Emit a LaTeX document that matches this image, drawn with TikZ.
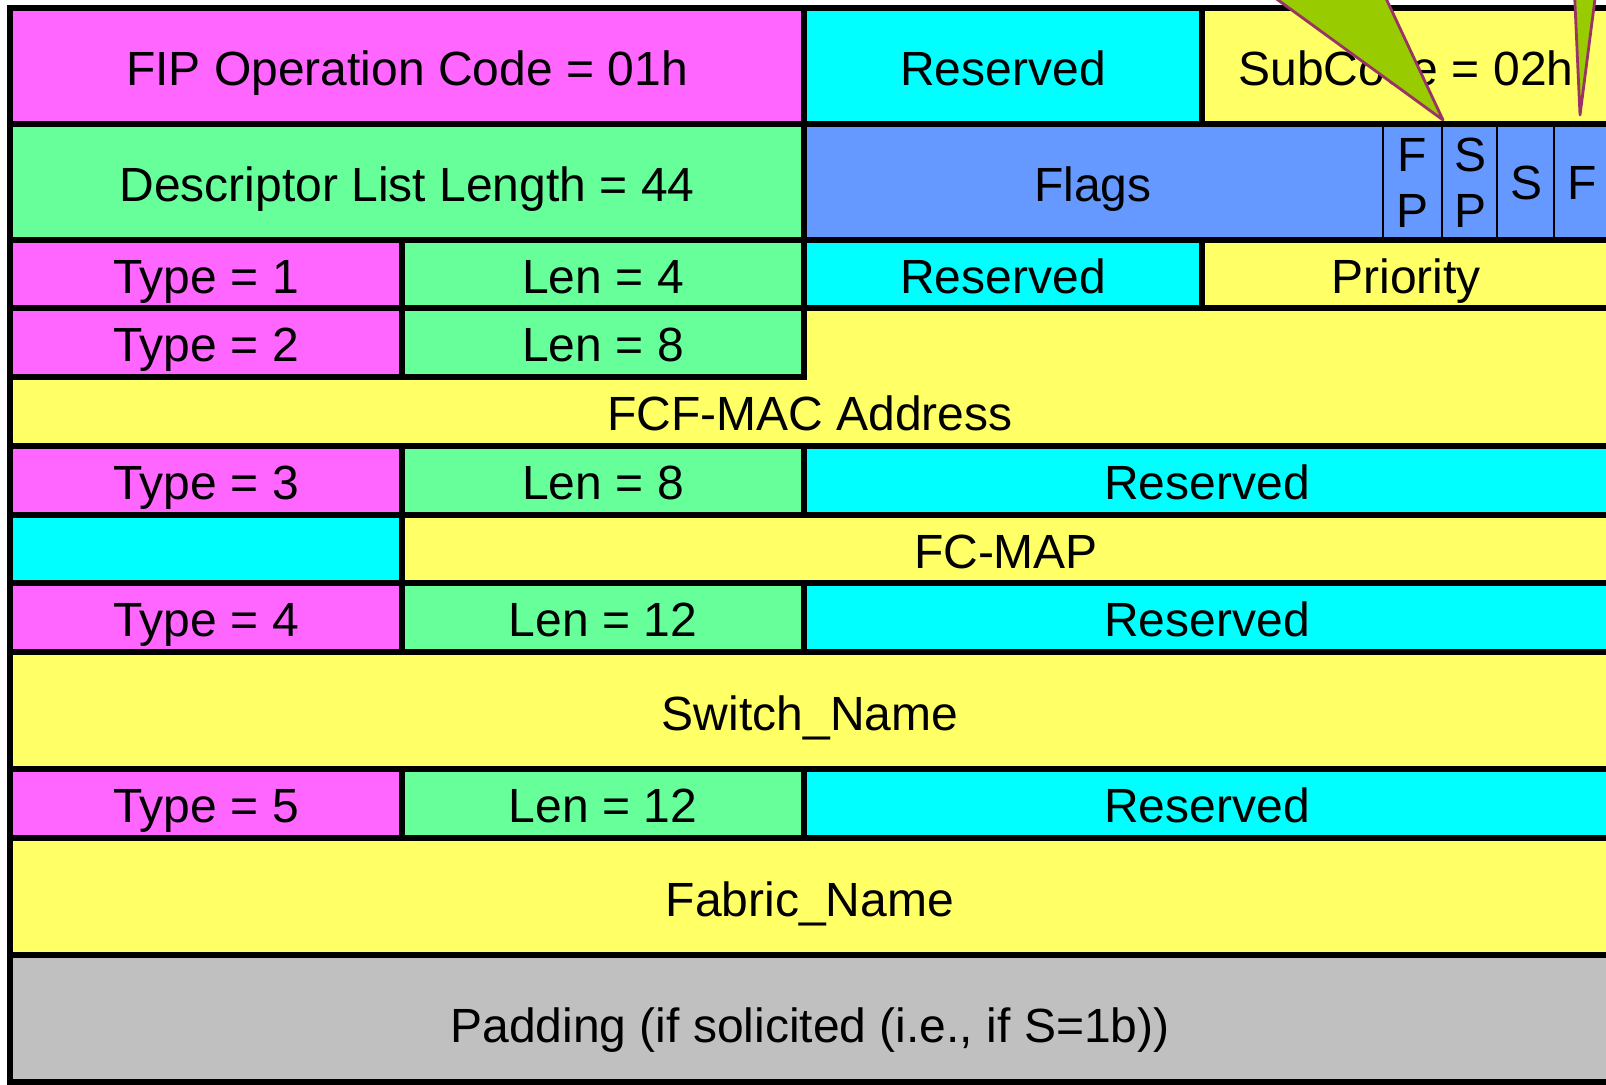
\documentclass[tikz,border=0pt]{standalone}
\usepackage{fontspec}
\setmainfont{Liberation Sans}
\usetikzlibrary{positioning}
\definecolor{fldmagenta}{HTML}{FF66FF}
\definecolor{fldgreen}{HTML}{66FF99}
\definecolor{fldcyan}{HTML}{00FFFF}
\definecolor{fldyellow}{HTML}{FFFF66}
\definecolor{fldblue}{HTML}{6699FF}
\definecolor{fldgray}{HTML}{C0C0C0}
\definecolor{pointergreen}{HTML}{99CC00}
\definecolor{pointerrim}{HTML}{993366}
\tikzstyle{field} = [draw=black,line width=2.7pt]
\tikzstyle{bitcell} = [draw=black,line width=0.9pt]
\tikzstyle{fldtext} = [font=\fontsize{24}{27.5}\selectfont,inner sep=0pt,anchor=base]
\tikzstyle{bittext} = [font=\fontsize{24}{28}\selectfont,inner sep=0pt,align=center]
\tikzstyle{pointer} = [fill=pointergreen,draw=pointerrim,line width=1.4pt,line join=round]

\begin{document}
\begin{tikzpicture}[x=0.5pt,y=-0.5pt]
	\useasboundingbox (0,0) rectangle (1606,1084);
	\clip (0,0) rectangle (1606,1084);
	
	% header word
	\draw[field,fill=fldmagenta] (10,8) rectangle (804,124);
	\draw[field,fill=fldcyan] (804,8) rectangle (1202,124);
	\draw[field,fill=fldyellow] (1202,8) rectangle (1611,124);
	\node[fldtext] (opcode) at (407,85) {FIP Operation Code = 01h};
	\node[fldtext] (rsvA) at (1003,85) {Reserved};
	\node[fldtext] (subcode) at (1406,85) {SubCode = 02h};
	
	\draw[field,fill=fldgreen] (10,124) rectangle (804,240);
	\draw[field,fill=fldblue] (804,124) rectangle (1611,240);
	\draw[bitcell] (1383,124) -- (1383,240);
	\draw[bitcell] (1442,124) -- (1442,240);
	\draw[bitcell] (1497,124) -- (1497,240);
	\draw[bitcell] (1554,124) -- (1554,240);
	\node[fldtext] (desclen) at (407,201) {Descriptor List Length = 44};
	\node[fldtext] (flags) at (1093,201) {Flags};
	\node[bittext] (fp) at (1412,183) {F\\P};
	\node[bittext] (sp) at (1470,183) {S\\P};
	\node[bittext] (s) at (1526,183) {S};
	\node[bittext] (f) at (1582,183) {F};
	
	% priority descriptor
	\draw[field,fill=fldmagenta] (10,240) rectangle (402,308);
	\draw[field,fill=fldgreen] (402,240) rectangle (804,308);
	\draw[field,fill=fldcyan] (804,240) rectangle (1202,308);
	\draw[field,fill=fldyellow] (1202,240) rectangle (1611,308);
	\node[fldtext] (typeA) at (206,293) {Type = 1};
	\node[fldtext] (lenA) at (603,293) {Len = 4};
	\node[fldtext] (rsvB) at (1003,293) {Reserved};
	\node[fldtext] (prio) at (1406,293) {Priority};
	
	% MAC address descriptor
	\draw[field,fill=fldyellow] (804,308) -- (1611,308) -- (1611,446) -- (10,446) -- (10,377) -- (804,377) -- cycle;
	\draw[field,fill=fldmagenta] (10,308) rectangle (402,377);
	\draw[field,fill=fldgreen] (402,308) rectangle (804,377);
	\node[fldtext] (typeB) at (206,361) {Type = 2};
	\node[fldtext] (lenB) at (603,361) {Len = 8};
	\node[fldtext] (fcfmac) at (810,430) {FCF-MAC Address};
	
	% FC-MAP descriptor
	\draw[field,fill=fldmagenta] (10,446) rectangle (402,515);
	\draw[field,fill=fldgreen] (402,446) rectangle (804,515);
	\draw[field,fill=fldcyan] (804,446) rectangle (1611,515);
	\draw[field,fill=fldcyan] (10,515) rectangle (402,583);
	\draw[field,fill=fldyellow] (402,515) rectangle (1611,583);
	\node[fldtext] (typeC) at (206,499) {Type = 3};
	\node[fldtext] (lenC) at (603,499) {Len = 8};
	\node[fldtext] (rsvC) at (1207,499) {Reserved};
	\node[fldtext] (fcmap) at (1006,568) {FC-MAP};
	
	% switch name descriptor
	\draw[field,fill=fldmagenta] (10,583) rectangle (402,652);
	\draw[field,fill=fldgreen] (402,583) rectangle (804,652);
	\draw[field,fill=fldcyan] (804,583) rectangle (1611,652);
	\draw[field,fill=fldyellow] (10,652) rectangle (1611,769);
	\node[fldtext] (typeD) at (206,636) {Type = 4};
	\node[fldtext] (lenD) at (603,636) {Len = 12};
	\node[fldtext] (rsvD) at (1207,636) {Reserved};
	\node[fldtext] (swname) at (810,730) {Switch\_Name};
	
	% fabric name descriptor
	\draw[field,fill=fldmagenta] (10,769) rectangle (402,838);
	\draw[field,fill=fldgreen] (402,769) rectangle (804,838);
	\draw[field,fill=fldcyan] (804,769) rectangle (1611,838);
	\draw[field,fill=fldyellow] (10,838) rectangle (1611,955);
	\node[fldtext] (typeE) at (206,822) {Type = 5};
	\node[fldtext] (lenE) at (603,822) {Len = 12};
	\node[fldtext] (rsvE) at (1207,822) {Reserved};
	\node[fldtext] (fabname) at (810,916) {Fabric\_Name};
	
	% padding
	\draw[field,fill=fldgray] (10,955) rectangle (1611,1082);
	\node[fldtext] (pad) at (810,1042) {Padding (if solicited (i.e., if S=1b))};
	
	% callout pointers
	\coordinate (tipSP) at (1443,120);
	\coordinate (tipF) at (1580,115);
	\draw[pointer] (1223,-40) -- (tipSP) -- (1368,-40);
	\draw[pointer] (1573,-40) -- (tipF) -- (1600,-40);
\end{tikzpicture}
\end{document}
